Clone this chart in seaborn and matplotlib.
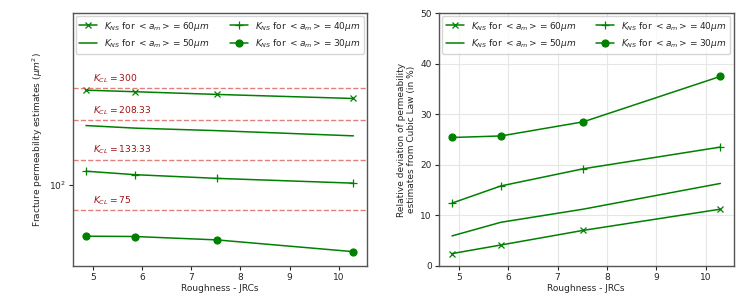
import numpy as np
import seaborn as sns
from matplotlib import pyplot as plt
from matplotlib.ticker import NullLocator

# data
jrc = [4.86, 5.85, 7.52, 10.3]
apertures = [60, 50, 40, 30]
k_cl = [300, 208.33, 133.33, 75]
k_ns_60 = [292.8, 287.7, 279.0, 266.4]
k_ns_50 = [196.0, 190.4, 185.0, 174.4]
k_ns_40 = [116.8, 112.3, 107.7, 102.0]
k_ns_30 = [55.9, 55.7, 53.6, 46.9]
dev_60 = [2.4, 4.1, 7.0, 11.2]
dev_50 = [5.9, 8.6, 11.2, 16.3]
dev_40 = [12.4, 15.8, 19.2, 23.5]
dev_30 = [25.4, 25.7, 28.5, 37.5]

markers = ['x', None, '+', 'o']
msizes = [4.5, 0, 5.5, 5]

sns.set_style('ticks')
plt.rcParams['font.family'] = ['DejaVu Sans']
plt.rcParams['font.size'] = 6.5
plt.rcParams['axes.edgecolor'] = '#555555'
plt.rcParams['axes.linewidth'] = 1.0
plt.rcParams['mathtext.fontset'] = 'dejavusans'

fig = plt.figure(figsize=(7.54, 3.02), dpi=100)
ax1 = fig.add_axes([72.7 / 754, 1 - 265.7 / 302, 294 / 754, 252.4 / 302])
ax2 = fig.add_axes([438.7 / 754, 1 - 265.7 / 302, 295 / 754, 252.4 / 302])


def label(a):
    return r'$K_{NS}$ for $<a_m>=' + str(a) + r'\mu m$'


# left: permeability estimates (log)
for k, a, m, ms in zip([k_ns_60, k_ns_50, k_ns_40, k_ns_30], apertures, markers, msizes):
    sns.lineplot(x=jrc, y=k, ax=ax1, color='green', marker=m, markersize=ms,
                 markeredgecolor='green', markeredgewidth=0.9, lw=1.1, label=label(a))
for k in k_cl:
    ax1.axhline(k, color='#d9534f', ls='--', lw=1.0, alpha=0.75)
    ax1.text(5.0, k * 1.04, r'$K_{CL}=' + ('%g' % k) + '$', color='#a01010',
             fontsize=6.6, va='bottom', ha='left')
ax1.set_yscale('log')
ax1.set_ylim(40, 700)
ax1.yaxis.set_minor_locator(NullLocator())
ax1.set_xlim(4.59, 10.57)
ax1.set_xticks([5, 6, 7, 8, 9, 10])
ax1.set_xlabel('Roughness - JRCs', labelpad=2)
ax1.set_ylabel(r'Fracture permeability estimates ($\mu m^2$)', labelpad=3)
ax1.legend(loc='upper center', ncol=2, fontsize=6.5, frameon=True, handlelength=2.0,
           columnspacing=2.2, borderaxespad=0.3)

# right: relative deviation
for d, a, m, ms in zip([dev_60, dev_50, dev_40, dev_30], apertures, markers, msizes):
    sns.lineplot(x=jrc, y=d, ax=ax2, color='green', marker=m, markersize=ms,
                 markeredgecolor='green', markeredgewidth=0.9, lw=1.1, label=label(a))
ax2.set_ylim(0, 50)
ax2.set_xlim(4.59, 10.57)
ax2.set_xticks([5, 6, 7, 8, 9, 10])
ax2.grid(True, color='#e6e6e6', lw=0.8)
ax2.set_xlabel('Roughness - JRCs', labelpad=2)
ax2.set_ylabel('Relative deviation of permeability\nestimates from Cubic Law (in %)', labelpad=3)
ax2.legend(loc='upper center', ncol=2, fontsize=6.5, frameon=True, handlelength=2.0,
           columnspacing=2.2, borderaxespad=0.3)

for ax in (ax1, ax2):
    ax.tick_params(labelsize=6.5, length=3, pad=2)

fig.savefig('out.png', dpi=100)
